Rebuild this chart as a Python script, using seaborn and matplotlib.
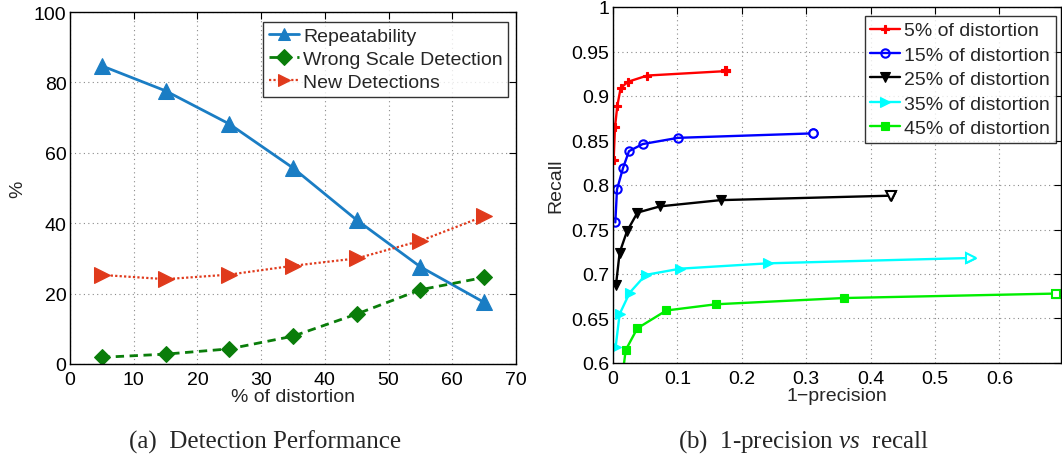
import numpy as np
import pandas as pd
import matplotlib
matplotlib.use("Agg")
import matplotlib.pyplot as plt
import seaborn as sns

# ---- Panel (a): detection performance vs distortion ----
distortion = [5, 15, 25, 35, 45, 55, 65]
repeatability = [84.7, 77.6, 68.2, 55.7, 40.9, 27.6, 17.5]
wrong_scale = [1.9, 2.8, 4.3, 7.9, 14.2, 21.1, 24.6]
new_detections = [25.3, 24.1, 25.4, 27.9, 30.0, 35.0, 42.0]

# ---- Panel (b): 1-precision vs recall per distortion level ----
fp_5 = [0.001, 0.0031, 0.0067, 0.0119, 0.0233, 0.0533, 0.176]
rc_5 = [0.828, 0.865, 0.889, 0.909, 0.916, 0.923, 0.928]
fp_15 = [0.0036, 0.0062, 0.0155, 0.0248, 0.046, 0.101, 0.310]
rc_15 = [0.758, 0.795, 0.819, 0.838, 0.846, 0.853, 0.858]
fp_25 = [0.0047, 0.0103, 0.0217, 0.038, 0.073, 0.167, 0.431]
rc_25 = [0.688, 0.724, 0.748, 0.769, 0.776, 0.783, 0.788]
fp_35 = [0.0041, 0.0103, 0.0259, 0.0507, 0.1045, 0.2406, 0.556]
rc_35 = [0.618, 0.655, 0.679, 0.699, 0.706, 0.712, 0.718]
fp_45 = [0.012, 0.0197, 0.0378, 0.0828, 0.160, 0.358, 0.687]
rc_45 = [0.570, 0.6145, 0.639, 0.659, 0.666, 0.673, 0.678]

sns.set_theme(style="white")
plt.rcParams["font.family"] = ["Liberation Sans", "DejaVu Sans"]
plt.rcParams["mathtext.fontset"] = "custom"
plt.rcParams["mathtext.rm"] = "Liberation Serif"
plt.rcParams["mathtext.it"] = "Liberation Serif:italic"

W, H = 1062, 460
fig = plt.figure(figsize=(W / 100, H / 100), dpi=100)
ax1 = fig.add_axes([70 / W, 1 - 365 / H, (516 - 70) / W, (365 - 13) / H])
ax2 = fig.add_axes([613 / W, 1 - 364 / H, (1061 - 613) / W, (364 - 8) / H])


def matlab_axes(ax):
    for s in ax.spines.values():
        s.set_visible(True)
        s.set_color("black")
        s.set_linewidth(1.0)
    ax.tick_params(direction="in", length=5, width=0.8, top=True, right=True,
                   labelsize=14, colors="black")
    ax.tick_params(axis="x", pad=5)
    ax.tick_params(axis="y", pad=2.5)
    ax.grid(True, linestyle=(0, (1, 3)), color="#8a8a8a", linewidth=0.8)
    ax.set_axisbelow(True)


# Panel (a)
df_a = pd.DataFrame({"x": distortion, "rep": repeatability,
                     "wrong": wrong_scale, "new": new_detections})
sns.lineplot(data=df_a, x="x", y="rep", ax=ax1, color="#1a7dc4", linewidth=2.0,
             marker="^", markersize=11, markeredgecolor="#1a7dc4",
             label="Repeatability", estimator=None)
sns.lineplot(data=df_a, x="x", y="wrong", ax=ax1, color="#0a7d0a", linewidth=2.0,
             marker="D", markersize=8, markeredgecolor="#0a7d0a",
             label="Wrong Scale Detection", estimator=None)
sns.lineplot(data=df_a, x="x", y="new", ax=ax1, color="#e03a1c", linewidth=1.6,
             marker=">", markersize=11, markeredgecolor="#e03a1c",
             label="New Detections", estimator=None)
ax1.lines[1].set_linestyle((0, (3, 2)))
ax1.lines[2].set_linestyle((0, (1, 1)))

ax1.set_xlim(0, 70)
ax1.set_ylim(0, 100)
ax1.set_xticks(range(0, 71, 10))
ax1.set_yticks(range(0, 101, 20))
matlab_axes(ax1)
ax1.set_xlabel("% of distortion", fontsize=14, labelpad=0)
ax1.set_ylabel("%", fontsize=14)
ax1.yaxis.set_label_coords(-0.099, 0.5)
leg1 = ax1.legend(loc="upper right", bbox_to_anchor=(0.983, 0.973), fontsize=14,
                  frameon=True, fancybox=False, edgecolor="black",
                  handlelength=1.55, handletextpad=0.2, borderpad=0.3,
                  labelspacing=0.27, borderaxespad=0.0)
leg1.get_frame().set_linewidth(1.0)
for ln in leg1.get_lines():
    ln.set_markevery([1])
    ln.set_markersize(8)

# Panel (b)
series_b = [
    ("5% of distortion", fp_5, rc_5, "#ff0000", "P", 6),
    ("15% of distortion", fp_15, rc_15, "#0000ff", "o", 6),
    ("25% of distortion", fp_25, rc_25, "#000000", "v", 7),
    ("35% of distortion", fp_35, rc_35, "#00ffff", ">", 7),
    ("45% of distortion", fp_45, rc_45, "#00ee00", "s", 5.5),
]
for name, fx, ry, col, mk, ms in series_b:
    d = pd.DataFrame({"fp": fx, "recall": ry})
    face = "none" if mk == "o" else col
    sns.lineplot(data=d, x="fp", y="recall", ax=ax2, color=col, linewidth=1.7,
                 marker=mk, markersize=ms, markerfacecolor=face,
                 markeredgecolor=col, markeredgewidth=1.5 if mk == "o" else 0.8,
                 label=name, estimator=None, sort=False)
    # open marker on the final operating point
    ax2.plot(fx[-1:], ry[-1:], linestyle="none", marker=mk, markersize=ms,
             markerfacecolor="white", markeredgecolor=col, markeredgewidth=1.5)

ax2.set_xlim(0, 0.6955)
ax2.set_ylim(0.6, 1.0)
ax2.set_xticks([0, 0.1, 0.2, 0.3, 0.4, 0.5, 0.6])
ax2.set_xticklabels(["0", "0.1", "0.2", "0.3", "0.4", "0.5", "0.6"])
ax2.set_yticks([0.6, 0.65, 0.7, 0.75, 0.8, 0.85, 0.9, 0.95, 1.0])
ax2.set_yticklabels(["0.6", "0.65", "0.7", "0.75", "0.8", "0.85", "0.9", "0.95", "1"])
matlab_axes(ax2)
ax2.set_xlabel("1\u2212precision", fontsize=14, labelpad=0)
ax2.set_ylabel("Recall", fontsize=14, labelpad=5)
leg2 = ax2.legend(loc="upper right", bbox_to_anchor=(0.989, 0.975), fontsize=14,
                  frameon=True, fancybox=False, edgecolor="black",
                  handlelength=1.55, handletextpad=0.2, borderpad=0.3,
                  labelspacing=0.35, borderaxespad=0.0)
leg2.get_frame().set_linewidth(1.0)
for ln in leg2.get_lines():
    ln.set_markevery([1])

# Sub-figure captions
fig.text(265 / W, 1 - 442 / H, "(a)  Detection Performance", ha="center", va="center",
         fontsize=18, family="Liberation Serif")
fig.text(803 / W, 1 - 442 / H, r"(b)  1-precision $\mathit{vs}$  recall", ha="center",
         va="center", fontsize=18, family="Liberation Serif")

fig.savefig("out.png", dpi=100)
